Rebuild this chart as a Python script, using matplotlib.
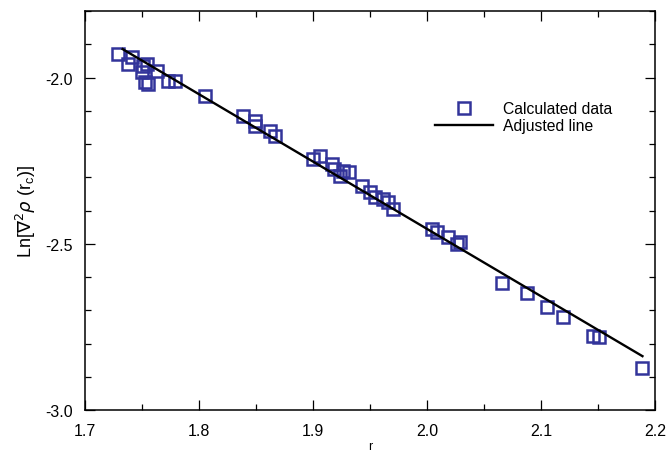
import numpy as np
import matplotlib
matplotlib.use("Agg")
import matplotlib.pyplot as plt
from matplotlib.ticker import MultipleLocator, FormatStrFormatter

plt.rcParams['font.family'] = ['Liberation Sans', 'DejaVu Sans']
plt.rcParams['mathtext.fontset'] = 'dejavusans'

# --- data ---
r_calc = [1.729, 1.741, 1.738, 1.751, 1.754, 1.750, 1.763, 1.753, 1.755, 1.773, 1.779,
          1.805, 1.839, 1.849, 1.849, 1.862, 1.867,
          1.900, 1.906, 1.917, 1.918, 1.926, 1.924, 1.932, 1.943, 1.950, 1.954,
          1.961, 1.966, 1.970,
          2.004, 2.009, 2.018, 2.026, 2.029,
          2.066, 2.088, 2.105, 2.119, 2.146, 2.151, 2.189]
ln_calc = [-1.929, -1.938, -1.959, -1.965, -1.959, -1.983, -1.980, -2.014, -2.020, -2.011, -2.011,
           -2.056, -2.116, -2.131, -2.146, -2.161, -2.176,
           -2.245, -2.236, -2.260, -2.275, -2.281, -2.296, -2.284, -2.326, -2.344, -2.359,
           -2.365, -2.374, -2.395,
           -2.456, -2.465, -2.480, -2.501, -2.495,
           -2.618, -2.648, -2.690, -2.720, -2.777, -2.780, -2.874]
r_fit = [1.733, 2.189]
ln_fit = [-1.914, -2.838]

fig = plt.figure(figsize=(6.67, 4.52), dpi=100)
ax = fig.add_axes([0.1274, 0.0907, 0.8546, 0.8823])

ax.plot(r_calc, ln_calc, linestyle='none', marker='s', markersize=8,
        markerfacecolor='none', markeredgecolor='#32349a', markeredgewidth=1.8,
        label='Calculated data')
ax.plot(r_fit, ln_fit, color='black', linewidth=1.7, label='Adjusted line')

ax.set_xlim(1.7, 2.2)
ax.set_ylim(-3.0, -1.8)
ax.xaxis.set_major_locator(MultipleLocator(0.1))
ax.xaxis.set_minor_locator(MultipleLocator(0.05))
ax.yaxis.set_major_locator(MultipleLocator(0.5))
ax.yaxis.set_minor_locator(MultipleLocator(0.1))
ax.xaxis.set_major_formatter(FormatStrFormatter('%.1f'))
ax.yaxis.set_major_formatter(FormatStrFormatter('%.1f'))

ax.tick_params(which='both', direction='in', top=True, right=True, labelsize=11.5)
ax.tick_params(which='major', length=7, width=0.9, pad=9)
ax.tick_params(which='minor', length=4, width=0.9)
for s in ax.spines.values():
    s.set_linewidth(1.1)

ax.set_xlabel('r', fontsize=9, labelpad=2)
ax.set_ylabel(r'Ln[$\nabla^2\rho$ (r$_\mathregular{c}$)]', fontsize=13, labelpad=5)

ax.legend(loc='upper left', bbox_to_anchor=(0.59, 0.81), frameon=False, numpoints=1,
          handlelength=3.7, fontsize=11.3, labelspacing=0.15, handletextpad=0.6)

fig.savefig('out.png', dpi=100)
